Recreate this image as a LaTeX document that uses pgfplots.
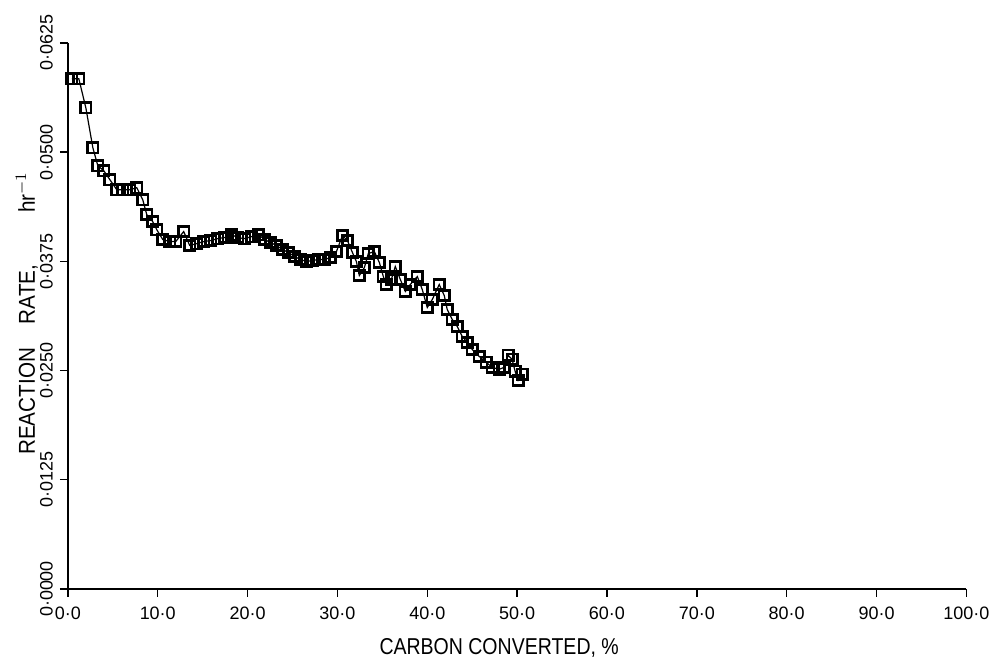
\documentclass[border=0pt]{standalone}
\usepackage{fontspec}
\setmainfont{Liberation Sans}
\newfontfamily\narrowfont[FakeStretch=0.85]{Liberation Sans}
\newfontfamily\ylfont[FakeStretch=0.9]{Liberation Sans}
\usepackage{pgfplots}
\pgfplotsset{compat=1.18}
\begin{document}
\begin{tikzpicture}
\begin{axis}[
  name=ax,
  scale only axis,
  width=450pt, height=273.5pt,
  xmin=0, xmax=100, ymin=0, ymax=0.0625,
  scaled y ticks=false, scaled x ticks=false,
  axis x line*=bottom, axis y line*=left,
  axis line style={-, line width=0.7pt},
  xtick={0,10,...,100},
  xticklabels={0·0,10·0,20·0,30·0,40·0,50·0,60·0,70·0,80·0,90·0,100·0},
  ytick={0,0.0125,0.025,0.0375,0.05,0.0625},
  yticklabels={0·0000,0·0125,0·0250,0·0375,0·0500,0·0625},
  tick align=outside,
  major tick length=4pt,
  tick style={line width=0.7pt, black},
  ticklabel style={font=\fontsize{9}{10}\selectfont},
  xticklabel style={yshift=-1.5pt},
  yticklabel style={rotate=90, anchor=south},
  xlabel={\narrowfont\fontsize{11.5}{13}\selectfont CARBON CONVERTED, \%},
  ylabel={\ylfont\fontsize{11.5}{13}\selectfont REACTION\hspace{12pt}RATE,\hspace{26pt}hr$^{-1}$},
  xlabel style={at={(axis description cs:0.48,-0.108)}, anchor=center},
  ylabel style={at={(axis description cs:-0.0456,0.505)}, anchor=center},
  clip=false,
]
\addplot[black, line width=0.6pt, mark=square, mark size=2.6pt,
  mark options={line width=1.3pt, solid}] coordinates {
(0.44,0.05839)
(1.22,0.05839)
(2.00,0.05507)
(2.78,0.05050)
(3.33,0.04845)
(4.00,0.04787)
(4.67,0.04685)
(5.44,0.04570)
(6.11,0.04570)
(6.89,0.04570)
(7.67,0.04593)
(8.33,0.04456)
(8.78,0.04285)
(9.44,0.04205)
(9.89,0.04113)
(10.56,0.03999)
(11.33,0.03976)
(12.00,0.03976)
(12.89,0.04091)
(13.56,0.03931)
(14.33,0.03953)
(15.11,0.03976)
(15.89,0.03988)
(16.67,0.04010)
(17.44,0.04022)
(18.22,0.04056)
(18.89,0.04022)
(19.67,0.04010)
(20.44,0.04033)
(21.22,0.04056)
(21.89,0.03999)
(22.56,0.03965)
(23.22,0.03931)
(23.89,0.03885)
(24.56,0.03851)
(25.22,0.03805)
(25.89,0.03771)
(26.56,0.03748)
(27.22,0.03759)
(27.89,0.03771)
(28.56,0.03771)
(29.22,0.03793)
(29.89,0.03862)
(30.56,0.04045)
(31.11,0.03988)
(31.67,0.03851)
(32.11,0.03748)
(32.44,0.03588)
(33.00,0.03679)
(33.44,0.03839)
(34.11,0.03862)
(34.67,0.03736)
(35.11,0.03576)
(35.44,0.03485)
(36.00,0.03542)
(36.44,0.03691)
(37.00,0.03542)
(37.56,0.03405)
(38.11,0.03485)
(38.89,0.03576)
(39.44,0.03428)
(40.00,0.03222)
(40.56,0.03314)
(41.33,0.03485)
(41.89,0.03359)
(42.22,0.03199)
(42.78,0.03085)
(43.33,0.03005)
(43.89,0.02891)
(44.44,0.02822)
(45.00,0.02742)
(45.78,0.02662)
(46.56,0.02594)
(47.22,0.02537)
(48.00,0.02514)
(48.56,0.02537)
(49.00,0.02674)
(49.44,0.02628)
(49.78,0.02491)
(50.11,0.02388)
(50.56,0.02457)
};
\end{axis}
\path ([xshift=-34pt,yshift=-37pt]ax.south west) rectangle ([xshift=14pt,yshift=21.5pt]ax.north east);
\end{tikzpicture}
\end{document}
